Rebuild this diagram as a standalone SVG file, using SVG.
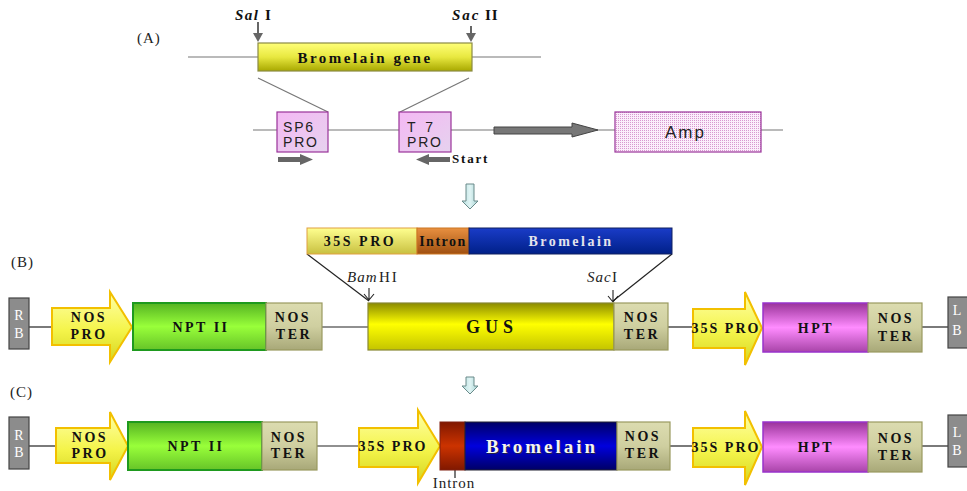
<svg xmlns="http://www.w3.org/2000/svg" width="967" height="491" viewBox="0 0 967 491">
<defs>
<linearGradient id="gArrow" x1="0" y1="0" x2="0" y2="1"><stop offset="0" stop-color="#ffffa8"/><stop offset="0.55" stop-color="#f4f44a"/><stop offset="1" stop-color="#d4d420"/></linearGradient>
<linearGradient id="gNpt" x1="0" y1="0" x2="0" y2="1"><stop offset="0" stop-color="#55b322"/><stop offset="0.5" stop-color="#99ff3a"/><stop offset="1" stop-color="#66c428"/></linearGradient>
<linearGradient id="gTer" x1="0" y1="0" x2="0" y2="1"><stop offset="0" stop-color="#dcdcb0"/><stop offset="0.5" stop-color="#cfcfa0"/><stop offset="1" stop-color="#a8a878"/></linearGradient>
<linearGradient id="gGus" x1="0" y1="0" x2="0" y2="1"><stop offset="0" stop-color="#8a8a00"/><stop offset="0.45" stop-color="#ffff00"/><stop offset="1" stop-color="#c4c400"/></linearGradient>
<linearGradient id="gHpt" x1="0" y1="0" x2="0" y2="1"><stop offset="0" stop-color="#993399"/><stop offset="0.5" stop-color="#ff8cff"/><stop offset="1" stop-color="#a844a8"/></linearGradient>
<linearGradient id="gIntronC" x1="0" y1="0" x2="0" y2="1"><stop offset="0" stop-color="#801800"/><stop offset="0.5" stop-color="#cc3300"/><stop offset="1" stop-color="#801800"/></linearGradient>
<linearGradient id="gBromC" x1="0" y1="0" x2="0" y2="1"><stop offset="0" stop-color="#000066"/><stop offset="0.5" stop-color="#0000dd"/><stop offset="1" stop-color="#000066"/></linearGradient>
<linearGradient id="g35Top" x1="0" y1="0" x2="0" y2="1"><stop offset="0" stop-color="#ffff90"/><stop offset="1" stop-color="#c8c040"/></linearGradient>
<linearGradient id="gIntronTop" x1="0" y1="0" x2="0" y2="1"><stop offset="0" stop-color="#e89040"/><stop offset="1" stop-color="#a05010"/></linearGradient>
<linearGradient id="gBromTop" x1="0" y1="0" x2="0" y2="1"><stop offset="0" stop-color="#1a3cc8"/><stop offset="1" stop-color="#002088"/></linearGradient>
<linearGradient id="gGene" x1="0" y1="0" x2="0" y2="1"><stop offset="0" stop-color="#ffff78"/><stop offset="0.5" stop-color="#e8e840"/><stop offset="1" stop-color="#a8a800"/></linearGradient>
<linearGradient id="gPro" x1="0" y1="0" x2="1" y2="1"><stop offset="0" stop-color="#f4b8f4"/><stop offset="1" stop-color="#e6d2ee"/></linearGradient>
<linearGradient id="gDown" x1="0" y1="0" x2="1" y2="0"><stop offset="0" stop-color="#b8e0e0"/><stop offset="0.5" stop-color="#e0f4f4"/><stop offset="1" stop-color="#a8d4d4"/></linearGradient>
<pattern id="pDot" width="2" height="2" patternUnits="userSpaceOnUse"><rect width="2" height="2" fill="#fbeefb"/><rect width="1" height="1" fill="#d898d0"/></pattern>
</defs>
<style>
.ln{stroke:#222;stroke-width:1.2;fill:none}
.lnA{stroke:#777;stroke-width:1.2;fill:none}
.b{font-family:"Liberation Serif","Times New Roman",serif;font-weight:bold;font-size:14px;letter-spacing:2.5px;text-anchor:middle;fill:#111}
.s{font-family:"Liberation Sans",Arial,sans-serif;font-size:14px;letter-spacing:1.8px;fill:#222}
.r{font-family:"Liberation Serif","Times New Roman",serif;font-size:15px;fill:#222}
.bd{fill:#8c8c8c;stroke:#444;stroke-width:1.2}
.bdt{font-family:"Liberation Serif",serif;font-size:14px;fill:#fff;text-anchor:middle}
.arr{fill:url(#gArrow);stroke:#f2c000;stroke-width:2}
.npt{fill:url(#gNpt);stroke:#1e9a1e;stroke-width:2}
.ter{fill:url(#gTer);stroke:#9a9a60;stroke-width:1.2}
.hpt{fill:url(#gHpt);stroke:#9933cc;stroke-width:1.5}
.down{fill:url(#gDown);stroke:#6a8a8a;stroke-width:1}
</style>

<!-- Section A -->
<g id="labelA"><text x="137" y="43" class="r" style="letter-spacing:1px">(A)</text></g>
<g id="connectors">
<line class="lnA" x1="188" y1="57" x2="541" y2="57"/>
<line class="lnA" x1="258" y1="78" x2="328" y2="112"/>
<line class="lnA" x1="469" y1="78" x2="400" y2="112"/>
<line class="lnA" x1="253" y1="130" x2="783" y2="130"/>
<line class="ln" x1="29" y1="327" x2="52" y2="327"/>
<line class="ln" x1="322" y1="327" x2="368" y2="327"/>
<line class="ln" x1="668" y1="327" x2="693" y2="327"/>
<line class="ln" x1="922" y1="327" x2="948" y2="327"/>
<line class="ln" x1="307" y1="254" x2="369" y2="301"/>
<line class="ln" x1="672" y1="254" x2="613" y2="301"/>
<line class="ln" x1="29" y1="446" x2="56" y2="446"/>
<line class="ln" x1="317" y1="446" x2="359" y2="446"/>
<line class="ln" x1="670" y1="446" x2="693" y2="446"/>
<line class="ln" x1="922" y1="446" x2="948" y2="446"/>
<line class="ln" x1="455" y1="466" x2="455" y2="478"/>
</g>

<g id="salI">
<text x="235" y="20" style="font-family:'Liberation Serif',serif;font-weight:bold;font-style:italic;font-size:15px;letter-spacing:1.5px;fill:#111">Sal</text>
<text x="265" y="20" style="font-family:'Liberation Serif',serif;font-weight:bold;font-size:15px;fill:#111">I</text>
<line x1="258" y1="22" x2="258" y2="35" stroke="#666" stroke-width="2"/>
<polygon points="253,33 263,33 258,42" fill="#666"/>
</g>
<g id="sacII">
<text x="452" y="20" style="font-family:'Liberation Serif',serif;font-weight:bold;font-style:italic;font-size:15px;letter-spacing:2px;fill:#111">Sac</text>
<text x="485" y="20" style="font-family:'Liberation Serif',serif;font-weight:bold;font-size:15px;letter-spacing:1px;fill:#111">II</text>
<line x1="471" y1="26" x2="471" y2="35" stroke="#666" stroke-width="2"/>
<polygon points="466,33 476,33 471,42" fill="#666"/>
</g>
<g id="bromelainGene">
<rect x="258" y="43" width="214" height="28" fill="url(#gGene)" stroke="#8a8a44" stroke-width="1.2"/>
<text x="365" y="63" class="b" style="font-size:15px;letter-spacing:2.5px">Bromelain gene</text>
</g>
<g id="sp6">
<rect x="277" y="112" width="51" height="40" fill="url(#gPro)" stroke="#993399" stroke-width="1.2"/>
<text x="283" y="132" class="s">SP6</text>
<text x="283" y="147" class="s">PRO</text>
<polygon points="278,157 300,157 300,154 313,159.5 300,165 300,162 278,162" fill="#666"/>
</g>
<g id="t7">
<rect x="399" y="112" width="52" height="40" fill="url(#gPro)" stroke="#993399" stroke-width="1.2"/>
<text x="407" y="132" class="s" style="letter-spacing:3px">T 7</text>
<text x="407" y="147" class="s">PRO</text>
<polygon points="450,157 429,157 429,154 416,159.5 429,165 429,162 450,162" fill="#666"/>
<text x="452" y="163" style="font-family:'Liberation Serif',serif;font-weight:bold;font-size:13px;letter-spacing:1.8px;fill:#111">Start</text>
</g>
<g id="bigArrow">
<polygon points="494,127 572,127 572,123 598,130 572,137 572,134 494,134" fill="#777" stroke="#444" stroke-width="1"/>
</g>
<g id="amp">
<rect x="615" y="112" width="146" height="40" fill="url(#pDot)" stroke="#993399" stroke-width="1.2"/>
<text x="665" y="138" class="s" style="font-size:17px;letter-spacing:2px">Amp</text>
</g>

<g id="downArrow1"><polygon class="down" points="466,184 474,184 474,201 478,201 470,209 462,201 466,201"/></g>

<!-- Section B -->
<g id="labelB"><text x="11" y="267" class="r" style="letter-spacing:1px">(B)</text></g>
<g id="insertB">
<rect x="307" y="228" width="110" height="26" fill="url(#g35Top)" stroke="#e0a040" stroke-width="1"/>
<text x="360" y="246" class="b">35S PRO</text>
<rect x="417" y="228" width="52" height="26" fill="url(#gIntronTop)" stroke="#cc7722" stroke-width="1"/>
<text x="443" y="246" class="b" style="letter-spacing:1.5px">Intron</text>
<rect x="469" y="228" width="203" height="26" fill="url(#gBromTop)" stroke="#102060" stroke-width="1"/>
<text x="571" y="246" class="b" style="fill:#e4e4ec;letter-spacing:2.5px">Bromelain</text>
</g>
<g id="bamHI">
<text x="347" y="282" style="font-family:'Liberation Serif',serif;font-style:italic;font-size:15px;letter-spacing:1px;fill:#222">Bam</text>
<text x="379" y="282" style="font-family:'Liberation Serif',serif;font-size:15px;letter-spacing:2px;fill:#222">HI</text>
<path d="M369,288 V300 M364,294 L369,300 L374,294" stroke="#222" stroke-width="1.1" fill="none"/>
</g>
<g id="sacI">
<text x="587" y="282" style="font-family:'Liberation Serif',serif;font-style:italic;font-size:15px;letter-spacing:1px;fill:#222">Sac</text>
<text x="612" y="282" style="font-family:'Liberation Serif',serif;font-size:15px;fill:#222">I</text>
<path d="M613,290 V302 M608,296 L613,302 L618,296" stroke="#222" stroke-width="1.1" fill="none"/>
</g>
<g id="rbB"><rect class="bd" x="9" y="298" width="20" height="51"/><text x="19" y="320" class="bdt">R</text><text x="19" y="338" class="bdt">B</text></g>
<g id="nosProB"><polygon class="arr" points="52,308 110,308 110,292 132,327 110,362 110,345 52,345"/><text x="89" y="322" class="b">NOS</text><text x="89" y="339" class="b">PRO</text></g>
<g id="nptB"><rect class="npt" x="133" y="303" width="133" height="47"/><text x="201" y="332" class="b">NPT II</text></g>
<g id="nosTerB1"><rect class="ter" x="266" y="303" width="56" height="47"/><text x="293" y="322" class="b">NOS</text><text x="294" y="339" class="b">TER</text></g>
<g id="gus"><rect x="368" y="303" width="246" height="47" fill="url(#gGus)" stroke="#888833" stroke-width="1.2"/><text x="492" y="333" class="b" style="font-size:18px;letter-spacing:5px">GUS</text></g>
<g id="nosTerB2"><rect class="ter" x="614" y="303" width="54" height="47"/><text x="642" y="322" class="b">NOS</text><text x="642" y="339" class="b">TER</text></g>
<g id="p35B"><polygon class="arr" points="693,309 745,309 745,292 762,328 745,365 745,348 693,348"/><text x="726" y="333" class="b" style="letter-spacing:2px">35S PRO</text></g>
<g id="hptB"><rect class="hpt" x="763" y="303" width="105" height="49"/><text x="816" y="333" class="b">HPT</text></g>
<g id="nosTerB3"><rect class="ter" x="868" y="303" width="54" height="49"/><text x="896" y="323" class="b">NOS</text><text x="896" y="341" class="b">TER</text></g>
<g id="lbB"><rect class="bd" x="948" y="297" width="22" height="51"/><text x="957" y="315" class="bdt">L</text><text x="957" y="335" class="bdt">B</text></g>

<g id="downArrow2"><polygon class="down" points="466,377 474,377 474,386 478,386 470,394 462,386 466,386"/></g>

<!-- Section C -->
<g id="labelC"><text x="10" y="397" class="r" style="letter-spacing:1px">(C)</text></g>
<g id="rbC"><rect class="bd" x="9" y="417" width="20" height="52"/><text x="19" y="440" class="bdt">R</text><text x="19" y="457" class="bdt">B</text></g>
<g id="nosProC"><polygon class="arr" points="56,428 110,428 110,412 128,446 110,480 110,463 56,463"/><text x="90" y="442" class="b">NOS</text><text x="90" y="458" class="b">PRO</text></g>
<g id="nptC"><rect class="npt" x="128" y="422" width="134" height="48"/><text x="196" y="451" class="b">NPT II</text></g>
<g id="nosTerC1"><rect class="ter" x="262" y="422" width="55" height="48"/><text x="289" y="442" class="b">NOS</text><text x="289" y="458" class="b">TER</text></g>
<g id="p35C1"><polygon class="arr" points="359,428 418,428 418,410 440,446 418,483 418,467 359,467"/><text x="393" y="451" class="b" style="letter-spacing:2px">35S PRO</text></g>
<g id="intronC"><rect x="440" y="422" width="25" height="48" fill="url(#gIntronC)" stroke="#802010" stroke-width="1"/><text x="454" y="488" class="r" style="letter-spacing:1px;text-anchor:middle">Intron</text></g>
<g id="bromC"><rect x="465" y="422" width="152" height="48" fill="url(#gBromC)" stroke="#223" stroke-width="1"/><text x="542" y="453" class="b" style="font-size:19px;letter-spacing:3px;fill:#222244" transform="translate(1,1)">Bromelain</text><text x="542" y="453" class="b" style="font-size:19px;letter-spacing:3px;fill:#f4f4f4">Bromelain</text></g>
<g id="nosTerC2"><rect class="ter" x="617" y="422" width="53" height="48"/><text x="643" y="441" class="b">NOS</text><text x="643" y="458" class="b">TER</text></g>
<g id="p35C2"><polygon class="arr" points="693,428 745,428 745,411 762,447 745,485 745,467 693,467"/><text x="726" y="452" class="b" style="letter-spacing:2px">35S PRO</text></g>
<g id="hptC"><rect class="hpt" x="763" y="422" width="105" height="50"/><text x="816" y="452" class="b">HPT</text></g>
<g id="nosTerC3"><rect class="ter" x="868" y="422" width="54" height="50"/><text x="896" y="443" class="b">NOS</text><text x="896" y="460" class="b">TER</text></g>
<g id="lbC"><rect class="bd" x="948" y="415" width="22" height="52"/><text x="957" y="437" class="bdt">L</text><text x="957" y="455" class="bdt">B</text></g>
</svg>
